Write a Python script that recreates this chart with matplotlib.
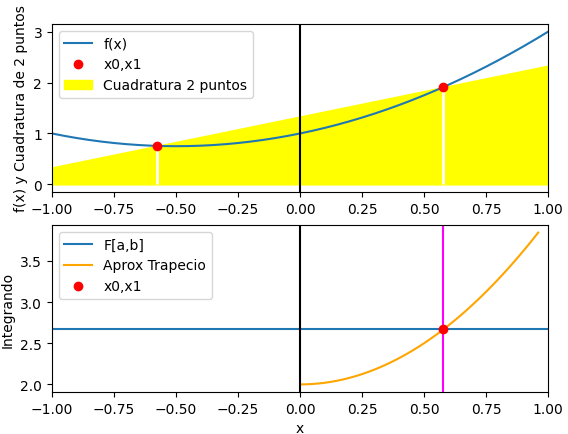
import numpy as np
import matplotlib
matplotlib.use("Agg")
import matplotlib.pyplot as plt

# data
a, b = -1.0, 1.0
f_coeffs = [1.0, 1.0, 1.0]          # f(x) = x^2 + x + 1
nodes = [-0.57735, 0.57735]         # Gauss nodes x0, x1
integral_value = 2.6667             # F[a,b]
trap_coeffs = [2.0, 0.0, 2.0]       # f(-t) + f(t)
t_end = 0.96

x = np.linspace(a, b, 201)
fx = np.polyval(f_coeffs, x)
fn = np.polyval(f_coeffs, nodes)
slope = (fn[1] - fn[0]) / (nodes[1] - nodes[0])
line = fn[0] + slope * (x - nodes[0])

fig = plt.figure(figsize=(5.68, 4.35), dpi=100)
ax1 = fig.add_axes([0.0915, 0.5563, 0.8735, 0.3862])
ax2 = fig.add_axes([0.0915, 0.0966, 0.8735, 0.3839])

ax1.plot(x, fx, label='f(x)')
ax1.plot(nodes, fn, 'o', color='red', label='x0,x1', zorder=5)
ax1.fill_between(x, 0, line, color='yellow', label='Cuadratura 2 puntos')
ax1.vlines(nodes, 0, fn, color='white', linewidth=2, zorder=1.5)
ax1.axvline(0, color='black', linewidth=1.5)
ax1.set_xlim(a, b)
ax1.set_ylabel('f(x) y Cuadratura de 2 puntos')
ax1.legend(loc='upper left')

t = np.linspace(0, t_end, 100)
ax2.axhline(integral_value, label='F[a,b]')
ax2.plot(t, np.polyval(trap_coeffs, t), color='orange', label='Aprox Trapecio')
ax2.plot([nodes[1]], [integral_value], 'o', color='red', label='x0,x1', zorder=5)
ax2.axvline(nodes[1], color='magenta')
ax2.axvline(0, color='black', linewidth=1.5)
ax2.set_xlim(a, b)
ax2.set_xlabel('x')
ax2.set_ylabel('Integrando')
ax2.legend(loc='upper left')

fig.savefig('out.png', dpi=100)
